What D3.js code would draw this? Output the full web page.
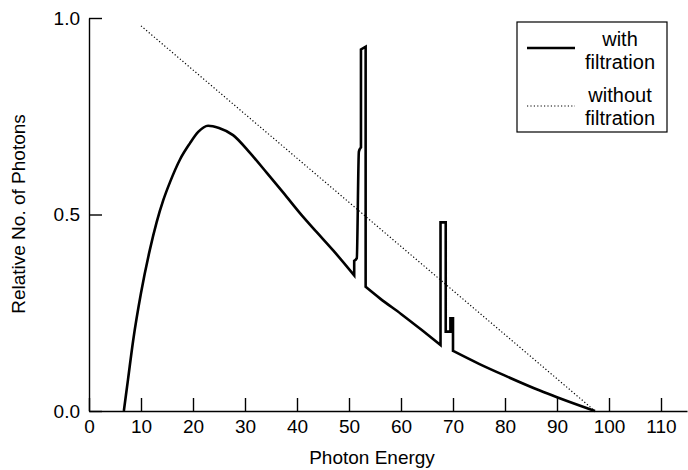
<!DOCTYPE html>
<html><head><meta charset="utf-8">
<script src="https://cdn.jsdelivr.net/npm/d3@7"></script>
<style>
body{margin:0;background:#fff;}
svg{display:block;font-family:"Liberation Sans",Arial,Helvetica,sans-serif;}
</style></head>
<body><svg id="c" width="688" height="470"></svg>
<script>
// Data
const withEnergy = [6.7,7.5,8.5,10,11.7,13,14.3,15.6,17.5,19.4,21,22.9,25,27.7,31,34.2,37.4,40.6,43.8,47,51,
  51,51.5,51.9,52.3,52.3,53.2,53.2,56,60,64,67.6,
  67.6,68.6,68.6,69.5,69.5,70,70,75,80,86.7,90,97.3];
const withCounts = [0,0.08,0.18,0.30,0.41,0.48,0.537,0.583,0.64,0.681,0.71,0.726,0.72,0.702,0.656,0.606,0.555,0.503,0.455,0.408,0.345,
  0.382,0.389,0.66,0.671,0.92,0.927,0.316,0.286,0.247,0.206,0.168,
  0.48,0.48,0.202,0.202,0.236,0.236,0.153,0.12,0.09,0.052,0.035,0];
const withoutEnergy = [10,97.3];
const withoutCounts = [0.98,0];
const xTicks = [0,10,20,30,40,50,60,70,80,90,100,110];
const yTicks = [0,0.5,1.0];
const legendLabels = [["with","filtration"],["without","filtration"]];
const xTitle = "Photon Energy";
const yTitle = "Relative No. of Photons";

const svg = d3.select("#c");
const x = d3.scaleLinear().domain([0,115]).range([89,687]);
const y = d3.scaleLinear().domain([0,1]).range([411,18]);
const FS = 19;

const line = d3.line().x(d=>x(d[0])).y(d=>y(d[1]));
const smooth = d3.line().x(d=>x(d[0])).y(d=>y(d[1])).curve(d3.curveMonotoneX);

// split into runs of strictly increasing energy, smooth each, join with straight jumps
const pts = d3.zip(withEnergy, withCounts);
const runs = [];
let cur = [pts[0]];
for (let i = 1; i < pts.length; i++) {
  if (pts[i][0] > pts[i-1][0]) cur.push(pts[i]);
  else { runs.push(cur); cur = [pts[i]]; }
}
runs.push(cur);
let dStr = "";
runs.forEach((r,i)=>{
  let s = r.length > 1 ? smooth(r) : ("M" + x(r[0][0]) + "," + y(r[0][1]));
  if (i > 0) s = "L" + s.slice(1);
  dStr += s;
});

svg.append("path").datum(d3.zip(withoutEnergy, withoutCounts))
  .attr("d", line).attr("fill","none").attr("stroke","#000")
  .attr("stroke-width",1.2).attr("stroke-dasharray","1.2,2.2");

svg.append("path").attr("d", dStr).attr("fill","none").attr("stroke","#000")
  .attr("stroke-width",2.6).attr("stroke-linejoin","miter");

const xa = svg.append("g").attr("transform","translate(0,411)")
  .call(d3.axisBottom(x).tickValues(xTicks).tickFormat(d3.format("d"))
    .tickSizeInner(-13).tickSizeOuter(0).tickPadding(9));
const ya = svg.append("g").attr("transform","translate(89,0)")
  .call(d3.axisLeft(y).tickValues(yTicks).tickFormat(d3.format(".1f"))
    .tickSizeInner(-13).tickSizeOuter(0).tickPadding(9));
[xa,ya].forEach(g=>{
  g.selectAll("text").attr("font-size",FS).attr("fill","#000");
  g.selectAll("line").attr("stroke","#000").attr("stroke-width",1.4);
  g.select(".domain").attr("stroke","#000").attr("stroke-width",1.4);
  g.attr("font-family",null).attr("font-size",null);
});

svg.append("text").attr("x",372).attr("y",464).attr("text-anchor","middle")
  .attr("font-size",FS).text(xTitle);
svg.append("text").attr("transform","translate(25,214) rotate(-90)")
  .attr("text-anchor","middle").attr("font-size",FS).text(yTitle);

// Legend
const lg = svg.append("g");
lg.append("rect").attr("x",517).attr("y",22).attr("width",150).attr("height",110)
  .attr("fill","#fff").attr("stroke","#000").attr("stroke-width",1.2);
lg.append("line").attr("x1",527).attr("x2",575).attr("y1",48).attr("y2",48)
  .attr("stroke","#000").attr("stroke-width",2.6);
lg.append("line").attr("x1",527).attr("x2",575).attr("y1",106).attr("y2",106)
  .attr("stroke","#000").attr("stroke-width",1.2).attr("stroke-dasharray","1.2,2.2");
const ly = [[46,69],[102,125]];
legendLabels.forEach((lab,i)=>{
  lab.forEach((t,j)=>{
    lg.append("text").attr("x",620).attr("y",ly[i][j]).attr("text-anchor","middle")
      .attr("font-size",20).text(t);
  });
});
</script></body></html>
